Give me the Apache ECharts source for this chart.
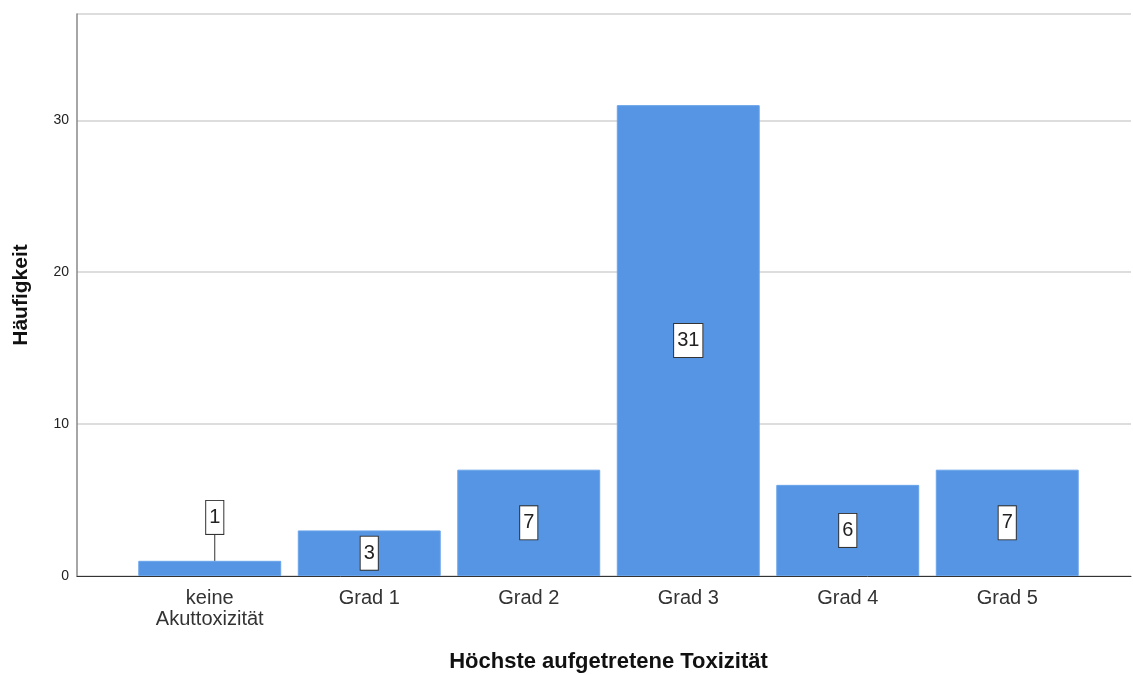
<!DOCTYPE html>
<html><head><meta charset="utf-8">
<script src="https://cdn.jsdelivr.net/npm/echarts@6/dist/echarts.min.js"></script>
<style>html,body{margin:0;padding:0;background:#fff}#c{width:1133px;height:675px}</style>
</head><body><div id="c"></div>
<script>
const categories = ['keine\nAkuttoxizität', 'Grad 1', 'Grad 2', 'Grad 3', 'Grad 4', 'Grad 5'];
const counts = [1, 3, 7, 31, 6, 7];
const yMin = 0, yMax = 37, yInterval = 10;
const yTitle = 'Häufigkeit';
const xTitle = 'Höchste aufgetretene Toxizität';

const FONT = 'Liberation Sans, Arial, sans-serif';
const chart = echarts.init(document.getElementById('c'));
chart.setOption({
  animation: false,
  grid: [
    {left: 77, right: 2, top: 14, bottom: 99, outerBoundsMode: 'none', containLabel: false},
    {left: 130, right: 46, top: 14, bottom: 99, outerBoundsMode: 'none', containLabel: false}
  ],
  xAxis: [
    {gridIndex: 0, type: 'value', min: 0, max: 1, axisLabel: {show: false}, axisTick: {show: false},
     splitLine: {show: false}, axisLine: {show: true, lineStyle: {color: '#333', width: 1}}},
    {gridIndex: 1, type: 'category', data: categories, axisLine: {show: false}, axisTick: {show: false},
     axisLabel: {color: '#333', fontSize: 20, fontFamily: FONT, margin: 12, lineHeight: 21},
     name: xTitle, nameLocation: 'middle', nameGap: 75,
     nameTextStyle: {color: '#111', fontSize: 22, fontWeight: 'bold', fontFamily: FONT}}
  ],
  yAxis: [
    {gridIndex: 0, type: 'value', min: yMin, max: yMax, interval: yInterval,
     axisLine: {show: true, lineStyle: {color: '#888', width: 1.5}}, axisTick: {show: false},
     axisLabel: {color: '#222', fontSize: 14, margin: 8, fontFamily: FONT, showMaxLabel: false},
     splitLine: {show: true, lineStyle: {color: '#d2d2d2', width: 1.5}},
     name: yTitle, nameLocation: 'middle', nameGap: 45,
     nameTextStyle: {color: '#111', fontSize: 21, fontWeight: 'bold', fontFamily: FONT}},
    {gridIndex: 1, type: 'value', min: yMin, max: yMax, interval: yInterval, show: false}
  ],
  series: [{
    type: 'bar', xAxisIndex: 1, yAxisIndex: 1, data: counts,
    barCategoryGap: '10.4%',
    itemStyle: {color: '#5595e3', borderColor: '#6aa4ea', borderWidth: 1},
    label: {show: true, position: 'inside', color: '#222', fontSize: 20, fontFamily: FONT,
      backgroundColor: '#fff', borderColor: '#333', borderWidth: 1, padding: [7, 3, 6, 3]},
    labelLine: {show: true, lineStyle: {color: '#333', width: 1}},
    labelLayout: function (p) { return p.dataIndex === 0 ? {dx: 5, dy: -51} : {}; }
  }]
});
</script></body></html>
